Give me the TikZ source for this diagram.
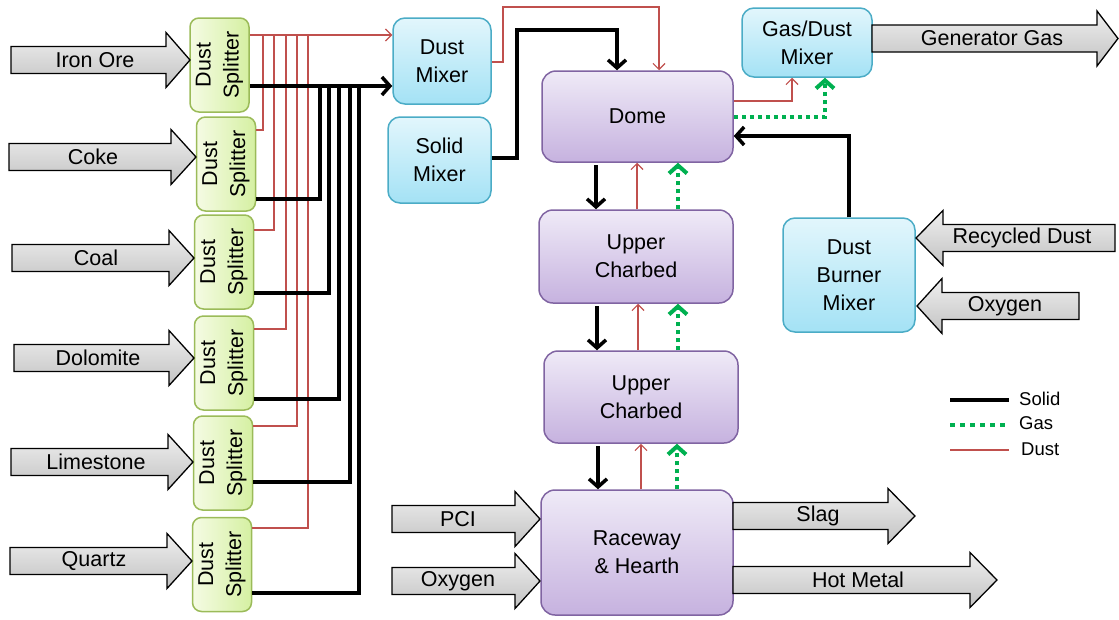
\documentclass[tikz,border=0pt]{standalone}
\usepackage{fontspec}
\setmainfont{Liberation Sans}
\usetikzlibrary{arrows.meta,calc}

\definecolor{redl}{HTML}{C0504D}
\definecolor{gasg}{HTML}{00B050}
\definecolor{bluebd}{HTML}{4BACC6}
\definecolor{bluetop}{HTML}{E2F6FC}
\definecolor{bluebot}{HTML}{A4E2F5}
\definecolor{purbd}{HTML}{8064A2}
\definecolor{purtop}{HTML}{EFEAF7}
\definecolor{purbot}{HTML}{C6B2DF}
\definecolor{grnbd}{HTML}{9BBB59}
\definecolor{grnl}{HTML}{F5FBE4}
\definecolor{grnr}{HTML}{D5F0A2}
\definecolor{arrtop}{HTML}{EFEFEF}
\definecolor{arrbot}{HTML}{C2C2C2}

\tikzset{
  lbl/.style={font=\fontsize{21.5}{28}\selectfont, align=center, inner sep=0pt},
  legtxt/.style={font=\fontsize{18.5}{20}\selectfont, inner sep=0pt, anchor=west},
  blockarr/.style={draw=black, line width=1.3pt, line join=miter, top color=arrtop, bottom color=arrbot},
  splitbox/.style={draw=grnbd, line width=1.5pt, rounded corners=9pt, left color=grnl, right color=grnr,
    minimum width=59pt, minimum height=94pt, inner sep=0pt},
  bluebox/.style={draw=bluebd, line width=1.5pt, rounded corners=12pt, top color=bluetop, bottom color=bluebot,
    inner sep=0pt, font=\fontsize{21.5}{28}\selectfont, align=center},
  purbox/.style={draw=purbd, line width=1.5pt, rounded corners=14pt, top color=purtop, bottom color=purbot,
    inner sep=0pt, font=\fontsize{21.5}{28}\selectfont, align=center},
  solidl/.style={draw=black, line width=3.5pt},
  dustl/.style={draw=redl, line width=1.2pt},
  gasl/.style={draw=gasg, line width=4pt, dash pattern=on 4pt off 4pt},
  solidtip/.style={-{Straight Barb[length=8pt,width=18pt]}},
  dusttip/.style={-{Straight Barb[length=6pt,width=12pt]}},
  gastip/.style={-{Straight Barb[length=8pt,width=18pt]}}
}

% #1 name, #2 tail x, #3 head base x, #4 tip x, #5 center y, #6 text x, #7 text
\newcommand{\blockarrow}[7]{%
  \draw[blockarr] (#2,{#5-13.5}) -- (#3,{#5-13.5}) -- (#3,{#5-27.5}) -- (#4,#5)
    -- (#3,{#5+27.5}) -- (#3,{#5+13.5}) -- (#2,{#5+13.5}) -- cycle;
  \node[lbl] (#1) at (#6,#5) {#7};}

\begin{document}
\begin{tikzpicture}[x=1pt,y=-1pt]
\useasboundingbox (0,0) rectangle (1119,619);

% ---------- splitters ----------
\node[splitbox] (s1) at (219.5,65) {};
\node[splitbox] (s2) at (226,164) {};
\node[splitbox] (s3) at (224,262) {};
\node[splitbox] (s4) at (224,363) {};
\node[splitbox] (s5) at (223,463) {};
\node[splitbox] (s6) at (222,564.5) {};
\foreach \n in {s1,s2,s3,s4,s5,s6}
  \node[lbl, rotate=90] (\n t) at (\n) {Dust\\Splitter};

% ---------- input arrows ----------
\blockarrow{ore}{11}{166}{190}{60}{95}{Iron Ore}
\blockarrow{coke}{9}{171}{196}{157}{93}{Coke}
\blockarrow{coal}{12}{169}{194}{258}{96}{Coal}
\blockarrow{dolo}{14}{169}{194}{358}{98}{Dolomite}
\blockarrow{lime}{11}{168}{193}{462}{96}{Limestone}
\blockarrow{quartz}{10}{167}{192}{561}{94}{Quartz}

% ---------- mixers and furnace ----------
\node[bluebox, minimum width=98pt, minimum height=86pt] (dm) at (442,61) {Dust\\Mixer};
\node[bluebox, minimum width=103pt, minimum height=86pt] (sm) at (439.5,160) {Solid\\Mixer};
\node[bluebox, minimum width=130pt, minimum height=69pt] (gd) at (807,42.5) {Gas/Dust\\Mixer};
\node[bluebox, minimum width=132pt, minimum height=114pt] (dbm) at (849,275) {Dust\\Burner\\Mixer};
\node[purbox, minimum width=191pt, minimum height=91pt] (dome) at (637.5,116.5) {Dome};
\node[purbox, minimum width=194pt, minimum height=93pt] (uc1) at (636,256.5) {Upper\\Charbed};
\node[purbox, minimum width=194pt, minimum height=92pt] (uc2) at (641,397) {Upper\\Charbed};
\node[purbox, minimum width=192pt, minimum height=125pt] (rh) at (637,552.5) {Raceway\\\& Hearth};

% ---------- other block arrows ----------
\blockarrow{gen}{872}{1097}{1118}{38.5}{992}{Generator Gas}
\blockarrow{recy}{1115}{943}{916}{238}{1022}{Recycled Dust}
\blockarrow{oxr}{1079}{942}{917}{306}{1005}{Oxygen}
\blockarrow{pci}{392}{515}{540}{519}{458}{PCI}
\blockarrow{oxb}{392}{515}{540}{581}{458}{Oxygen}
\blockarrow{slag}{733}{888}{915}{516}{818}{Slag}
\blockarrow{hot}{733}{970}{997}{580}{858}{Hot Metal}

% ---------- dust (red) collection ----------
\draw[dustl, dusttip] (s1.east |- 0,35) -- (dm.west |- 0,35);
\foreach \n/\x/\y in {s2/263/130, s3/274/230, s4/286/329, s5/297/426, s6/308/528}
  \draw[dustl] (\n.east |- 0,\y) -- (\x,\y) -- (\x,35);

% ---------- solid (black) collection ----------
\foreach \n/\x/\y in {s2/320/199, s3/329/293, s4/339/399, s5/350/482, s6/359/593}
  \draw[solidl] (\n.east |- 0,\y) -- (\x,\y) -- (\x,86);
\draw[solidl, solidtip] (s1.east |- 0,86) -- (dm.west |- 0,86);

% ---------- mixers to dome ----------
\draw[dustl, dusttip] (dm.east |- 0,62) -- (503,62) -- (503,7) -- (659,7) -- (659,0 |- dome.north);
\draw[solidl, solidtip] (sm.east |- 0,158) -- (517,158) -- (517,30) -- (617,30) -- (617,0 |- dome.north);

% ---------- dome to gas/dust mixer ----------
\draw[dustl, dusttip] (dome.east |- 0,101) -- (792,101) -- (792,0 |- gd.south);
\draw[gasl, gastip] (dome.east |- 0,117) -- (825,117) -- (825,0 |- gd.south);

% ---------- dust burner mixer to dome ----------
\draw[solidl, solidtip] (dbm.north) -- (dbm.north |- 0,136) -- (dome.east |- 0,136);

% ---------- vertical flows ----------
\draw[solidl, solidtip] (596,165) -- (596,0 |- uc1.north);
\draw[dustl, dusttip] (637,0 |- uc1.north) -- (637,0 |- dome.south);
\draw[gasl, gastip] (678,0 |- uc1.north) -- (678,0 |- dome.south);

\draw[solidl, solidtip] (597,306) -- (597,0 |- uc2.north);
\draw[dustl, dusttip] (638,0 |- uc2.north) -- (638,0 |- uc1.south);
\draw[gasl, gastip] (678,0 |- uc2.north) -- (678,0 |- uc1.south);

\draw[solidl, solidtip] (598,446) -- (598,0 |- rh.north);
\draw[dustl, dusttip] (641,0 |- rh.north) -- (641,0 |- uc2.south);
\draw[gasl, gastip] (677,0 |- rh.north) -- (677,0 |- uc2.south);

% ---------- legend ----------
\coordinate (l1a) at (950,400); \coordinate (l1b) at (1009,400);
\coordinate (l2a) at (950,425); \coordinate (l2b) at (1009,425);
\coordinate (l3a) at (950,450); \coordinate (l3b) at (1009,450);
\draw[solidl] (l1a) -- (l1b);
\draw[draw=gasg, line width=4pt, dash pattern=on 5pt off 5pt] (l2a) -- (l2b);
\draw[dustl] (l3a) -- (l3b);
\node[legtxt] (lsolid) at (1019,399) {Solid};
\node[legtxt] (lgas) at (1019,423) {Gas};
\node[legtxt] (ldust) at (1021,449) {Dust};
\end{tikzpicture}
\end{document}
